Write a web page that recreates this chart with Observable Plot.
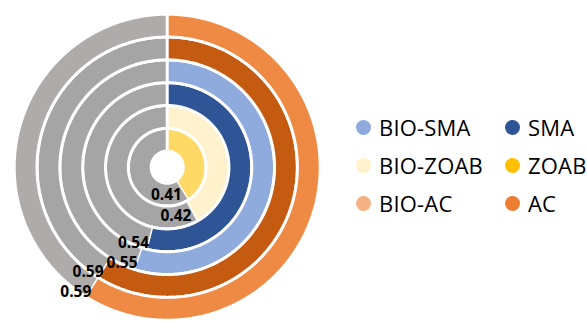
<!DOCTYPE html>
<html>
<head>
<meta charset="utf-8">
<script src="https://cdn.jsdelivr.net/npm/d3@7"></script>
<script src="https://cdn.jsdelivr.net/npm/@observablehq/plot@0.6"></script>
<style>
  html, body { margin: 0; padding: 0; background: #fff; }
  #wrap { position: relative; width: 587px; height: 322px; }
  #legend { position: absolute; left: 356px; top: 108px; display: grid;
    grid-template-columns: 149px auto; grid-auto-rows: 38px;
    font-family: "Open Sans", sans-serif; font-size: 22px; letter-spacing: 0.2px; color: #000; }
  .item { display: flex; align-items: center; white-space: nowrap; }
  .sw { width: 15px; height: 15px; border-radius: 50%; margin-right: 8px; flex: none; }
</style>
</head>
<body>
<div id="wrap"><div id="legend"></div></div>
<script>
// Rings, inner to outer
const rings = ["ZOAB", "BIO-ZOAB", "SMA", "BIO-SMA", "AC", "BIO-AC"];
const values = [0.41, 0.42, 0.54, 0.55, 0.59, 0.59];
const ringColors = ["#FFD966", "#FFF2CC", "#2F5597", "#8FAADC", "#C55A11", "#EE8A43"];
const restColors = ["#A5A5A5", "#A5A5A5", "#A5A5A5", "#A5A5A5", "#A5A5A5", "#AFABAB"];
const labels = ["0.41", "0.42", "0.54", "0.55", "0.59", "0.59"];

// Legend
const legendLabels = ["BIO-SMA", "SMA", "BIO-ZOAB", "ZOAB", "BIO-AC", "AC"];
const legendColors = ["#8FAADC", "#2F5597", "#FFF2CC", "#FFC000", "#F4B183", "#ED7D31"];

// layout
const cx = 166.7, cy = 166.7, R = 153;
const hole = 0.105;
const step = (1 - hole) / rings.length;

function arcPoly(id, r0, r1, a0, a1, color, out) {
  const n = Math.max(2, Math.ceil((a1 - a0) / (Math.PI / 360)));
  for (let i = 0; i <= n; i++) {
    const a = a0 + (a1 - a0) * i / n;
    out.push({id, color, x: r1 * Math.sin(a), y: r1 * Math.cos(a)});
  }
  for (let i = n; i >= 0; i--) {
    const a = a0 + (a1 - a0) * i / n;
    out.push({id, color, x: r0 * Math.sin(a), y: r0 * Math.cos(a)});
  }
}

const pts = [];
const labelData = [];
rings.forEach((name, i) => {
  const r0 = hole + i * step, r1 = r0 + step;
  const a = values[i] * 2 * Math.PI;
  arcPoly(name + "-v", r0, r1, 0, a, ringColors[i], pts);
  arcPoly(name + "-r", r0, r1, a, 2 * Math.PI, restColors[i], pts);
  const rm = (r0 + r1) / 2;
  labelData.push({text: labels[i], x: rm * Math.sin(a), y: rm * Math.cos(a)});
});

const chart = Plot.plot({
  width: 587,
  height: 322,
  margin: 0,
  x: {domain: [-1, 1], range: [cx - R, cx + R], axis: null},
  y: {domain: [-1, 1], range: [cy + R, cy - R], axis: null},
  color: {type: "identity"},
  style: {background: "#fff"},
  marks: [
    Plot.line(pts, {x: "x", y: "y", z: "id", fill: "color", stroke: "white", strokeWidth: 3, strokeLinejoin: "miter"}),
    Plot.text(labelData, {x: "x", y: "y", text: "text", textAnchor: "end", dx: 0, dy: 5,
      fontSize: 15.5, fontWeight: "bold", fill: "#000", fontFamily: "Open Sans"})
  ]
});
const wrap = document.getElementById("wrap");
wrap.insertBefore(chart, wrap.firstChild);

const legend = document.getElementById("legend");
legendLabels.forEach((l, i) => {
  const it = document.createElement("div");
  it.className = "item";
  const sw = document.createElement("span");
  sw.className = "sw";
  sw.style.background = legendColors[i];
  const t = document.createElement("span");
  t.textContent = l;
  it.appendChild(sw);
  it.appendChild(t);
  legend.appendChild(it);
});
</script>
</body>
</html>
